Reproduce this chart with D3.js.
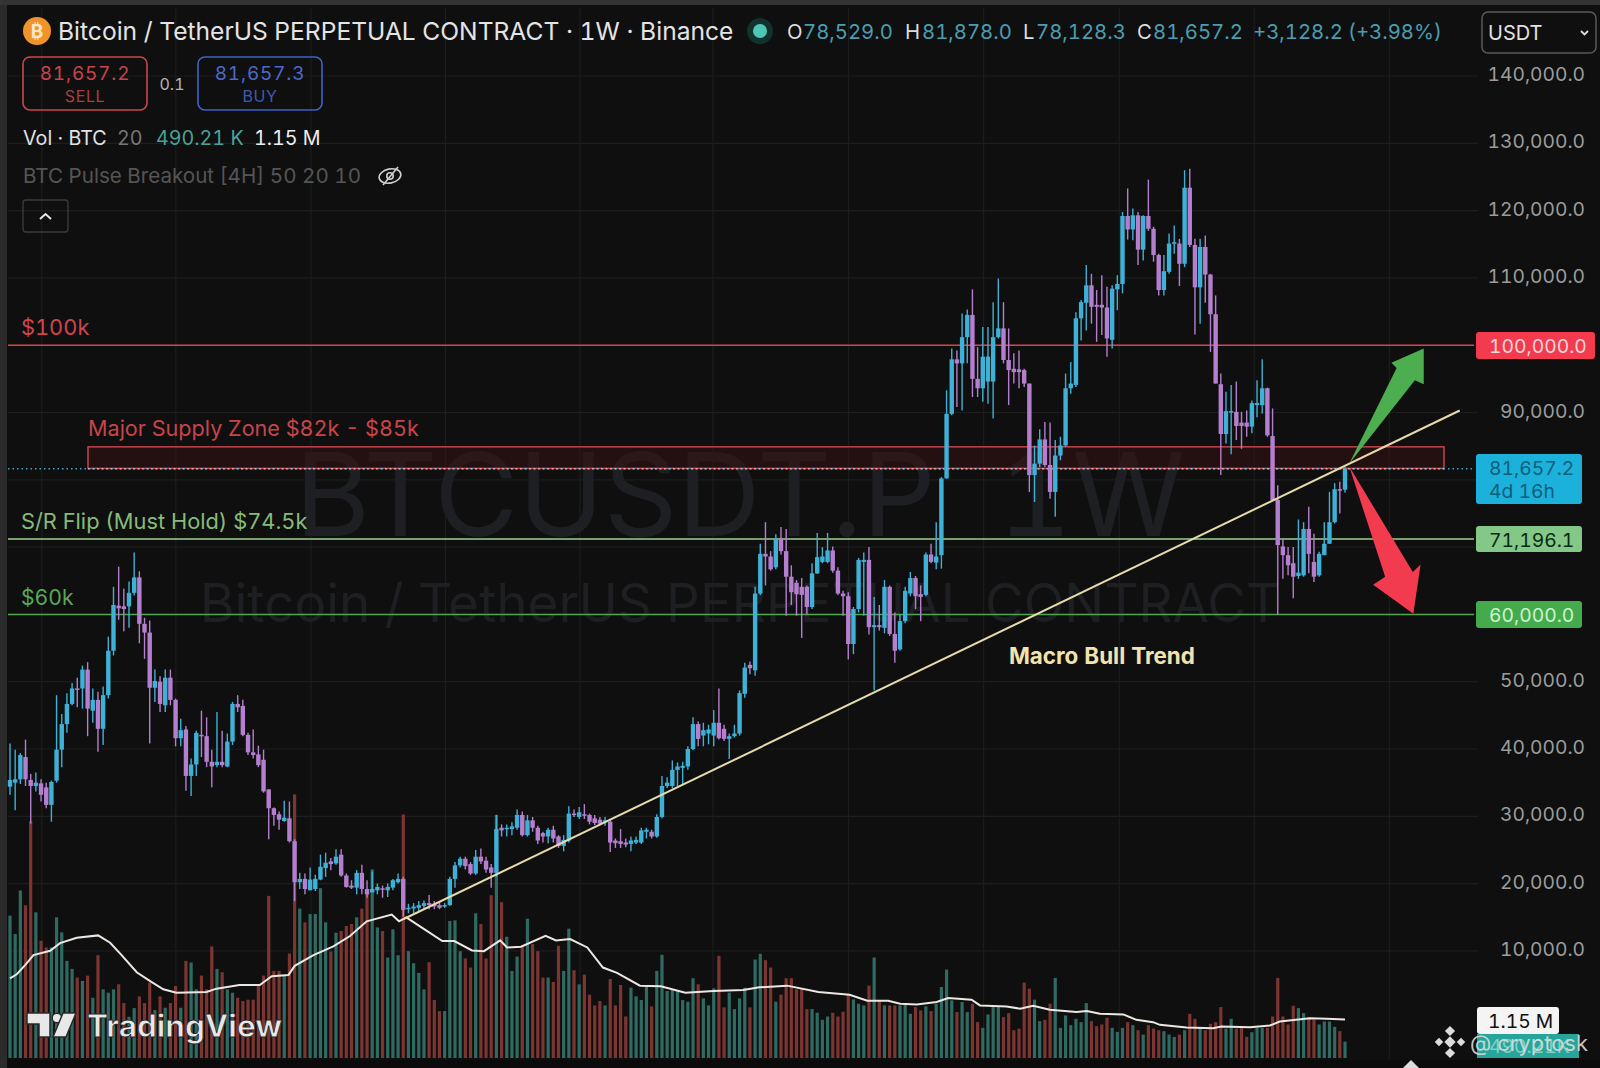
<!DOCTYPE html>
<html>
<head>
<meta charset="utf-8">
<title>BTCUSDT.P 1W</title>
<script src="https://cdn.jsdelivr.net/npm/d3@7/dist/d3.min.js"></script>
<style>
  html, body { margin: 0; padding: 0; background: #0f0f0f; }
  svg { display: block; }
  text { font-family: Inter, Roboto, sans-serif; font-variant-numeric: tabular-nums; }
</style>
</head>
<body>
<div id="chart"></div>
<script>
// weekly candles, prices in thousands of USDT
var opens = [
  34.4,35.0,35.5,38.8,35.4,34.5,34.9,34.3,31.7,35.3,
  39.9,43.7,46.7,49.0,49.0,51.8,45.7,47.3,43.0,48.0,
  54.6,61.3,61.2,61.2,63.2,65.5,58.6,57.3,49.1,50.0,
  46.5,50.6,47.3,41.6,42.9,36.0,37.7,42.1,41.9,38.1,
  37.6,38.1,37.4,41.1,46.7,46.4,42.1,39.5,39.2,38.4,
  34.0,31.2,30.3,29.3,29.7,26.3,20.2,20.7,19.0,19.2,20.6,
  22.3,23.3,23.0,24.3,21.2,19.7,19.4,21.6,19.2,18.7,
  19.0,19.3,19.0,19.4,20.2,20.7,16.2,16.3,16.4,16.7,
  17.1,17.0,16.8,16.6,16.8,20.7,22.7,23.7,22.9,21.5,
  24.0,23.4,22.4,21.6,28.3,28.1,28.1,28.3,30.2,27.2,
  29.4,28.3,27.5,27.0,28.0,27.0,25.6,26.4,30.4,29.9,
  30.3,30.2,29.7,29.5,29.1,29.2,26.4,26.3,26.1,25.9,
  26.1,26.1,27.7,27.7,27.0,29.9,34.5,34.5,36.9,37.2,
  37.4,40.0,43.7,42.0,42.3,42.0,43.9,43.0,41.5,41.9,
  42.3,48.2,52.5,51.7,63.1,69.0,68.6,67.0,71.3,69.4,
  65.6,64.7,64.1,64.1,61.1,66.1,67.8,67.8,69.5,66.5,
  63.1,62.7,55.6,60.8,67.8,68.1,58.1,58.4,58.0,64.1,
  57.1,54.8,59.0,63.1,65.4,63.0,62.9,68.9,67.7,68.8,
  80.2,89.8,97.9,97.3,101.2,104.5,95.0,93.6,94.6,94.6,
  101.2,102.5,97.8,96.5,96.4,96.3,94.3,80.7,82.4,86.0,
  82.2,78.2,83.6,85.1,93.6,94.1,104.0,106.3,108.9,106.0,
  106.0,105.6,100.8,108.3,109.1,119.2,117.2,119.3,114.2,119.2,
  117.3,113.4,108.2,110.9,115.1,115.1,112.1,123.4,114.9,108.6,
  114.6,110.5,104.6,94.2,86.8,90.1,90.1,88.5,88.5,87.9,
  91.1,91.1,93.6,86.5,77.0,70.1,68.8,67.6,65.7,65.8,72.7,
  67.8,65.8,68.8,70.5,73.7,78.6,78.529
];
var closes = [
  35.4,35.5,39.1,35.5,34.5,35.0,33.2,31.7,35.1,39.9,
  43.7,46.7,49.0,48.8,51.8,46.0,47.3,43.0,48.0,54.6,
  61.4,60.9,60.8,63.2,65.5,58.6,57.3,49.1,50.1,46.7,
  50.6,47.3,41.6,42.8,36.0,37.7,42.4,41.9,38.1,37.4,
  38.1,37.6,41.1,46.7,46.2,42.1,39.5,39.1,37.6,33.7,
  31.2,30.2,29.5,29.8,26.3,20.2,20.7,19.2,20.6,20.7,22.5,
  23.1,22.9,24.0,21.2,19.5,19.4,21.6,19.2,18.4,19.2,
  19.5,19.1,19.5,20.5,20.7,16.1,16.4,16.6,16.8,17.1,
  16.8,16.6,16.4,16.8,20.7,22.7,23.7,22.6,21.5,24.0,
  23.3,22.1,21.6,28.1,27.9,28.3,28.5,30.2,27.2,29.4,
  28.3,26.4,27.0,28.0,26.7,25.6,26.5,30.4,30.3,30.6,
  30.2,29.2,29.0,28.9,29.4,26.1,26.0,25.9,25.8,26.4,
  26.5,27.9,28.0,27.0,29.9,34.5,35.0,36.9,37.4,37.5,
  40.0,43.7,41.5,42.8,42.9,43.9,41.6,41.5,41.9,42.3,
  48.3,52.1,52.0,63.1,69.0,68.6,66.7,71.3,69.4,65.6,
  63.3,63.0,62.9,61.1,66.1,68.5,68.6,69.5,66.5,63.1,
  62.7,55.6,60.8,68.1,68.1,58.1,58.4,58.1,64.1,57.1,
  54.6,59.0,63.5,65.4,62.7,62.6,68.9,67.8,68.6,80.2,
  89.8,97.9,97.3,101.2,104.5,95.0,93.6,98.3,98.3,101.2,
  102.5,97.8,96.3,96.0,96.0,94.3,80.7,82.4,86.0,82.2,
  78.2,83.6,85.1,93.6,94.3,104.0,106.4,108.9,105.7,105.7,
  105.6,101.0,108.4,109.1,119.2,117.2,119.3,114.2,119.2,117.3,
  113.4,108.2,111.0,115.1,115.3,112.1,123.4,114.9,108.6,114.6,
  110.5,104.6,94.3,86.8,90.2,90.2,88.0,88.0,87.9,91.4,
  91.4,93.6,86.6,77.0,70.3,68.8,67.3,65.6,66.2,72.7,69.0,
  65.6,69.0,70.5,73.7,78.6,78.5,81.657
];
var highs = [
  40.8,39.9,39.4,41.4,36.3,36.5,35.5,35.0,35.3,48.0,
  45.2,48.3,49.8,50.6,52.4,52.9,49.0,48.5,49.3,56.7,
  64.1,67.1,63.8,64.9,69.2,66.4,59.5,59.1,51.8,50.8,
  51.8,51.8,47.5,44.5,43.4,38.6,42.7,45.7,44.7,39.9,
  45.5,42.7,42.3,47.0,48.0,47.3,42.4,42.9,40.5,39.9,
  34.0,31.3,30.7,32.3,32.2,26.6,21.6,21.5,22.4,21.3,24.3,
  24.6,23.8,25.1,25.1,21.5,20.5,22.0,22.8,20.5,21.8,
  20.0,19.7,20.0,20.7,21.5,21.0,17.0,17.1,17.4,17.5,
  18.3,17.4,17.3,17.1,21.0,23.2,24.0,24.0,23.2,25.0,
  25.2,24.0,22.9,30.2,28.8,28.8,29.1,31.0,30.7,30.2,
  29.9,28.6,27.7,28.3,28.6,27.2,27.2,31.5,31.0,31.4,
  31.8,30.4,30.2,29.9,29.9,29.4,26.7,28.1,26.7,27.0,
  27.0,28.3,28.3,28.0,30.3,36.0,35.8,38.3,38.0,38.1,
  40.4,44.7,44.1,43.9,43.6,45.8,49.0,43.6,42.3,43.6,
  48.7,52.8,53.0,64.1,70.5,73.7,69.4,71.9,73.0,72.7,
  67.3,65.1,65.4,64.3,67.6,72.1,70.0,72.1,70.1,67.0,
  63.5,63.3,61.1,68.4,69.2,70.0,62.6,61.4,65.1,64.3,
  60.3,60.0,64.1,66.3,65.7,64.3,69.2,70.5,73.7,80.4,
  93.3,99.5,99.2,104.7,105.3,108.3,99.7,102.7,102.7,106.4,
  109.9,106.4,102.5,98.8,99.2,96.5,94.3,85.1,87.5,88.6,
  88.5,85.9,86.4,95.8,97.5,104.9,106.7,111.9,110.6,108.2,
  110.4,108.7,108.9,110.4,119.8,123.3,120.3,119.8,119.3,124.6,
  117.6,113.6,113.4,116.6,117.8,115.8,126.0,126.2,115.8,115.8,
  116.3,110.6,107.4,95.8,93.1,94.1,94.6,90.1,90.3,91.8,
  94.8,97.9,93.7,90.6,79.2,71.3,70.0,70.0,74.1,73.7,76.0,
  72.0,69.3,73.7,78.2,79.5,79.7,81.878
];
var lows = [
  33.2,30.9,34.8,34.5,28.9,33.7,32.2,31.2,29.2,35.0,
  37.3,42.4,46.5,46.2,46.0,41.9,43.9,39.6,40.6,47.5,
  53.9,59.2,57.5,58.0,62.8,55.7,53.4,40.8,47.0,45.5,
  45.5,46.5,40.4,40.4,33.8,33.0,36.0,38.8,37.3,34.3,
  37.3,37.3,37.3,40.6,45.5,41.9,39.1,38.6,37.3,33.5,
  26.6,28.6,28.0,29.2,26.1,17.4,19.2,18.4,19.0,18.9,20.5,
  21.0,22.0,22.8,21.0,19.4,19.2,18.4,18.4,17.9,18.7,
  18.4,17.9,18.0,19.0,20.0,15.1,15.6,15.6,15.9,16.2,
  16.2,16.2,16.2,16.4,16.7,19.4,22.4,22.1,21.3,21.3,
  22.9,21.6,19.4,21.0,27.0,27.0,27.2,28.0,27.0,27.0,
  27.7,25.9,26.1,26.0,26.1,25.3,24.8,26.1,29.9,29.6,
  29.6,28.8,28.7,28.7,28.6,24.7,25.3,25.3,25.4,24.8,
  25.9,25.9,26.7,26.7,26.8,29.7,34.2,34.2,34.5,34.7,
  36.9,39.8,40.4,40.4,40.7,40.4,41.4,41.2,38.5,41.7,
  42.0,47.6,51.1,50.9,62.9,64.3,66.5,66.7,68.9,59.8,
  61.4,59.8,56.5,60.0,60.8,66.0,67.6,67.6,66.2,62.9,
  59.8,53.3,54.1,60.3,59.8,57.0,48.7,57.6,57.2,56.8,
  52.8,54.6,58.7,62.7,60.8,59.0,62.7,67.6,66.7,66.8,
  80.2,89.6,90.8,90.3,97.3,92.3,92.3,91.6,91.3,89.1,
  101.0,97.3,91.1,94.3,93.6,93.8,78.2,76.7,81.9,81.9,
  77.2,74.5,82.9,84.9,92.8,93.8,100.7,102.2,103.2,100.5,
  101.5,98.3,99.5,105.2,107.7,115.7,115.6,111.9,112.6,117.0,
  112.4,107.4,107.4,110.6,113.6,108.8,111.6,114.6,101.6,103.2,
  106.3,99.0,94.3,80.7,85.4,83.8,85.9,84.6,86.4,86.9,
  89.3,89.8,86.4,77.0,60.0,65.3,65.8,62.4,65.3,65.6,66.1,
  64.8,65.6,68.8,70.5,73.5,75.0,78.128
];
// weekly volume in millions of BTC
var volumes = [
  4.25,3.7,5.0,4.56,7.07,4.35,3.5,3.3,3.3,4.2,
  3.75,2.9,2.66,2.4,2.3,2.46,1.8,3.07,2.05,1.95,
  2.05,2.2,1.64,1.23,1.49,1.84,1.64,2.25,1.43,1.84,
  1.5,1.64,2.15,1.5,2.9,2.85,2.05,2.46,2.05,3.33,
  2.66,2.56,2.05,1.95,1.8,1.7,1.74,1.74,2.15,2.46,
  4.84,2.6,2.6,2.46,3.12,7.87,4.46,4.05,4.3,4.3,
  5.07,4.05,3.18,3.74,3.79,3.94,4.0,4.2,4.46,4.9,
  5.63,3.9,3.79,3.0,3.84,3.07,7.27,3.19,2.83,2.54,2.05,
  2.86,1.73,1.4,1.4,4.09,4.11,3.19,2.97,2.7,4.32,
  4.0,2.97,4.86,7.26,4.65,3.62,2.6,3.03,3.35,4.16,
  3.4,3.19,2.4,2.4,2.27,3.35,2.6,3.86,2.62,2.2,
  2.49,1.89,1.57,1.7,1.57,2.36,1.57,2.18,1.24,2.1,
  1.84,1.73,2.16,1.54,2.6,3.08,2.0,2.05,2.0,1.73,
  1.68,2.38,2.2,1.78,1.57,2.08,3.05,1.51,1.95,1.46,
  1.78,2.1,1.51,2.94,3.11,2.92,2.7,1.68,1.89,2.38,
  2.38,2.05,2.05,1.46,1.46,1.35,1.14,1.24,1.35,1.24,
  1.38,1.89,1.75,1.62,1.57,2.16,3.0,1.73,1.57,1.57,
  1.57,1.57,1.6,1.32,1.52,1.42,1.54,1.4,1.62,2.12,
  2.64,1.72,1.37,1.67,1.37,1.62,1.07,0.9,1.3,1.52,
  1.52,1.22,1.34,0.83,0.88,2.25,2.07,1.74,1.1,1.14,
  1.62,2.39,0.9,1.27,0.98,1.17,1.07,1.64,1.1,0.95,
  1.0,1.2,0.9,0.78,0.9,1.07,0.98,0.83,0.7,0.98,
  0.88,0.83,0.8,0.7,0.63,0.7,0.83,1.32,1.17,0.88,
  0.83,1.02,1.07,1.52,0.88,1.17,0.88,0.93,0.63,0.77,0.9,
  0.9,0.9,1.24,2.39,1.24,1.0,1.56,1.49,1.34,1.22,
  1.14,1.0,1.09,1.09,0.93,0.8,0.49
];
// volume moving average, sampled along the white line [position, millions]
var volMA = [
  [0,2.38],[1.3,2.5],[2.9,2.77],[4.5,3.07],[7.7,3.2],[9.6,3.43],[12.8,3.59],[16.9,3.66],
  [19.2,3.44],[21.4,3.07],[24.3,2.56],[26.8,2.3],[29.4,2.05],[31.9,1.95],[37.7,1.97],
  [39.6,2.07],[44,2.18],[47.9,2.18],[50.2,2.44],[53.4,2.48],[54.6,2.75],[58.2,3.07],
  [62,3.33],[65.2,3.64],[68.4,4.08],[73.2,4.28],[74.6,4.08],[76,4.2],[79.2,3.87],
  [82.9,3.49],[85.2,3.49],[88.6,3.21],[90.9,3.19],[94,3.51],[95.3,3.3],[98,3.32],
  [102.7,3.65],[104.7,3.51],[107.4,3.55],[110.7,3.3],[113.7,2.7],[116.4,2.54],[120.8,2.16],
  [124.8,2.14],[129.5,1.95],[134.9,2.0],[140.6,2.03],[143.7,2.11],[149,2.16],[155,1.97],
  [161,1.89],[164.4,1.71],[168.4,1.71],[170.7,1.62],[173.9,1.6],[177.7,1.67],[179.9,1.79],
  [184.4,1.74],[186,1.57],[191.1,1.54],[193.7,1.47],[196.2,1.56],[199.4,1.44],[204.5,1.37],
  [206.5,1.4],[209,1.32],[213.5,1.3],[216,1.14],[219.2,1.07],[220.5,0.99],[225.6,0.91],
  [230.7,0.89],[232.3,0.94],[237.8,0.92],[241.6,0.97],[243.5,1.09],[249.3,1.19],[252.5,1.17],[256,1.15]
];

var axisTicks = [140, 130, 120, 110, 90, 50, 40, 30, 20, 10];
var gridPrices = d3.range(10, 150, 10);
var gridBars = [6.1, 31.8, 57.7, 83.5, 109.3, 134.8, 160.8, 186.7, 212.7, 238.6, 264.5];

// levels and drawings on the chart, [position, price]
var lastPrice = 81.657;
var levels = [
  { price: 100, color: '#d9434c' },
  { price: 71.196, color: '#9ccf8f' },
  { price: 60, color: '#4ea64f' }
];
var supplyZone = [84.9, 81.7];
var trendLine = [[75.4, 14.7], [278, 90.3]];
var upArrow = [[256.8, 82.4], [265.9, 96.6], [264.9, 97.4], [271.1, 99.5], [271.1, 94.2], [269.4, 94.8]];
var downArrow = [[256.8, 82.0], [269.0, 66.3], [270.5, 67.4], [269.1, 60.1], [261.4, 64.4], [263.7, 65.6]];

var width = 1600, height = 1068;
var plotRight = 1478;

var x = d3.scaleLinear().domain([0, closes.length - 1]).range([10, 1345]);
// overlays and grid were read against this coarser position scale
var xo = d3.scaleLinear().domain([0, 256]).range([10, 1345]);
var y = d3.scaleLinear().domain([0, 140]).range([1018.2, 76]);
var v = d3.scaleLinear().domain([0, 8]).range([1058, 790]);

var svg = d3.select('#chart').append('svg')
  .attr('width', width)
  .attr('height', height);

svg.append('rect').attr('width', width).attr('height', height).attr('fill', '#0f0f0f');
svg.append('rect').attr('width', 7).attr('height', height).attr('fill', '#2b2b2b');
svg.append('rect').attr('width', width).attr('height', 5).attr('fill', '#333333');
svg.append('rect').attr('x', 7).attr('y', 1060).attr('width', 1593).attr('height', 8).attr('fill', '#0b0b0b');

// grid
svg.append('g').selectAll('line').data(gridPrices).enter().append('line')
  .attr('x1', 8).attr('x2', plotRight)
  .attr('y1', d => y(d)).attr('y2', d => y(d))
  .style('stroke', '#1d1d1d').style('stroke-width', 1.2);
svg.append('g').selectAll('line').data(gridBars).enter().append('line')
  .attr('x1', d => xo(d)).attr('x2', d => xo(d))
  .attr('y1', 8).attr('y2', 1060)
  .style('stroke', '#1d1d1d').style('stroke-width', 1.2);

// watermark
svg.append('text').attr('x', 740).attr('y', 536)
  .attr('text-anchor', 'middle').style('font-size', '115px').style('white-space', 'pre')
  .style('fill', '#1e1f23').text('BTCUSDT.P  1W');
svg.append('text').attr('x', 740).attr('y', 622)
  .attr('text-anchor', 'middle').style('font-size', '53px')
  .style('fill', '#1e1f23').text('Bitcoin / TetherUS PERPETUAL CONTRACT');

// volume
svg.append('g').selectAll('rect').data(volumes).enter().append('rect')
  .attr('x', (d, i) => x(i) - 1.6)
  .attr('y', d => v(d))
  .attr('width', 3.2)
  .attr('height', d => v(0) - v(d))
  .attr('fill', (d, i) => closes[i] >= opens[i] ? '#2f6b62' : '#7c3531');

svg.append('path').datum(volMA)
  .attr('d', d3.line().x(d => xo(d[0])).y(d => v(d[1])))
  .style('fill', 'none').style('stroke', '#ece7e2').style('stroke-width', 2);

// horizontal levels
svg.append('g').selectAll('line').data(levels).enter().append('line')
  .attr('x1', 8).attr('x2', 1474)
  .attr('y1', d => y(d.price)).attr('y2', d => y(d.price))
  .style('stroke', d => d.color).style('stroke-width', 1.5);

// supply zone
svg.append('rect')
  .attr('x', 88).attr('y', y(supplyZone[0]))
  .attr('width', 1444 - 88).attr('height', y(supplyZone[1]) - y(supplyZone[0]))
  .style('fill', '#3a1214').style('fill-opacity', 0.5)
  .style('stroke', '#c2444b').style('stroke-width', 1.5);

// last price line
svg.append('line')
  .attr('x1', 8).attr('x2', 1474)
  .attr('y1', y(lastPrice)).attr('y2', y(lastPrice))
  .style('stroke', '#4aa6c4').style('stroke-width', 1.5).style('stroke-dasharray', '1.5,3');
svg.append('line')
  .attr('x1', 88).attr('x2', 1444)
  .attr('y1', y(lastPrice)).attr('y2', y(lastPrice))
  .style('stroke', '#eaa79f').style('stroke-width', 1.5).style('stroke-dasharray', '1.5,3');

// candles
var candles = svg.append('g').selectAll('g').data(closes).enter().append('g')
  .style('color', (d, i) => d >= opens[i] ? '#3fb1d6' : '#b57fd0');
candles.append('line')
  .attr('x1', (d, i) => x(i)).attr('x2', (d, i) => x(i))
  .attr('y1', (d, i) => y(highs[i])).attr('y2', (d, i) => y(lows[i]))
  .style('stroke', 'currentColor').style('stroke-width', 1.4);
candles.append('rect')
  .attr('x', (d, i) => x(i) - 2.2)
  .attr('y', (d, i) => y(Math.max(opens[i], d)))
  .attr('width', 4.4)
  .attr('height', (d, i) => Math.max(1.5, Math.abs(y(opens[i]) - y(d))))
  .style('fill', 'currentColor');

// trend line and arrows
var line = d3.line().x(d => xo(d[0])).y(d => y(d[1]));
svg.append('path').datum(trendLine).attr('d', line)
  .style('fill', 'none').style('stroke', '#e6dbab').style('stroke-width', 2);
svg.append('path').datum(upArrow).attr('d', d => line(d) + 'Z').style('fill', '#4cae4f');
svg.append('path').datum(downArrow).attr('d', d => line(d) + 'Z').style('fill', '#f23b4e');

// price axis
var axis = svg.append('g')
  .attr('transform', 'translate(' + plotRight + ',-1.5)')
  .call(d3.axisRight(y).tickValues(axisTicks).tickSize(0)
    .tickFormat(d => d3.format(',.1f')(d * 1000)));
axis.select('.domain').remove();
axis.selectAll('text')
  .attr('x', 107).attr('text-anchor', 'end')
  .style('font-family', 'Inter, Roboto, sans-serif')
  .style('font-size', '19.2px').style('fill', '#9c9c9c');

// chart labels
function label(txt, lx, ly, size, color, weight) {
  return svg.append('text').attr('x', lx).attr('y', ly)
    .style('font-size', size + 'px').style('fill', color)
    .style('font-weight', weight || 400).text(txt);
}
label('$100k', 21, 335, 21.8, '#d2434b');
label('Major Supply Zone $82k - $85k', 88, 436, 21.6, '#c8444b');
label('S/R Flip (Must Hold) $74.5k', 21, 529, 21.8, '#86bb78');
label('$60k', 21, 605, 21.2, '#58a858');
label('Macro Bull Trend', 1009, 664, 22.4, '#f2e4ad', 700);

// price tags on the axis
var tags = [
  { top: 332, h: 27, w: 119, fill: '#f23b4e', color: '#f9d5d8', lines: ['100,000.0'] },
  { top: 454, h: 50, w: 106, fill: '#1cb1da', color: '#0e5f7a', lines: ['81,657.2', '4d 16h'] },
  { top: 526, h: 26, w: 106, fill: '#84c888', color: '#0b2a12', lines: ['71,196.1'] },
  { top: 601, h: 27, w: 106, fill: '#44ab4d', color: '#cdf2cd', lines: ['60,000.0'] }
];
tags.forEach(function(t) {
  svg.append('rect').attr('x', 1476).attr('y', t.top).attr('width', t.w).attr('height', t.h)
    .attr('rx', 3).attr('fill', t.fill);
  t.lines.forEach(function(s, i) {
    label(s, 1489, t.top + 21 + i * 23, 19.3, t.color);
  });
});

// volume tags
svg.append('rect').attr('x', 1477).attr('y', 1034).attr('width', 102).attr('height', 24).attr('fill', '#26a69a');
label('490.21K', 1489, 1053, 19.3, '#7ed0c8');
svg.append('rect').attr('x', 1477).attr('y', 1007).attr('width', 82).attr('height', 27).attr('rx', 3).attr('fill', '#f4f4f4');
label('1.15 M', 1488, 1028, 19.3, '#111111');

// header
svg.append('circle').attr('cx', 37).attr('cy', 31).attr('r', 14).attr('fill', '#f0932b');
svg.append('text').attr('x', 37).attr('y', 38).attr('text-anchor', 'middle')
  .style('font-size', '19px').style('font-weight', 700).style('fill', '#fbe6c8').text('₿');
label('Bitcoin / TetherUS PERPETUAL CONTRACT · 1W · Binance', 58, 40, 24.6, '#e4e4e4');
svg.append('circle').attr('cx', 760).attr('cy', 31).attr('r', 13).attr('fill', '#12322d');
svg.append('circle').attr('cx', 760).attr('cy', 31).attr('r', 7).attr('fill', '#4cc7b4');

[['O', 787, '#dedede'], ['78,529.0', 803, '#4b9db2'], ['H', 905, '#dedede'], ['81,878.0', 922, '#4b9db2'],
 ['L', 1023, '#dedede'], ['78,128.3', 1036, '#4b9db2'], ['C', 1137, '#dedede'], ['81,657.2', 1153, '#4b9db2'],
 ['+3,128.2', 1253, '#4b9db2'], ['(+3.98%)', 1348, '#4b9db2']
].forEach(function(d) { label(d[0], d[1], 39, 20.3, d[2]); });

// USDT selector
svg.append('rect').attr('x', 1482).attr('y', 12).attr('width', 114).attr('height', 41).attr('rx', 6)
  .style('fill', 'none').style('stroke', '#5a5a5a').style('stroke-width', 1.5);
label('USDT', 1488, 40, 20, '#e2e2e2');
svg.append('path').attr('d', 'M1581,31l3.5,3.5l3.5,-3.5').style('fill', 'none').style('stroke', '#dddddd').style('stroke-width', 1.8);

// sell / buy boxes
[{ x0: 23, stroke: '#c9474e', color: '#c8434b', sub: '#a34046', price: '81,657.2', name: 'SELL' },
 { x0: 198, stroke: '#3f62c8', color: '#4c69c9', sub: '#3f5bb0', price: '81,657.3', name: 'BUY' }
].forEach(function(b) {
  svg.append('rect').attr('x', b.x0).attr('y', 57).attr('width', 124).attr('height', 53).attr('rx', 7)
    .style('fill', 'none').style('stroke', b.stroke).style('stroke-width', 1.6);
  svg.append('text').attr('x', b.x0 + 62).attr('y', 80).attr('text-anchor', 'middle')
    .style('font-size', '19px').style('letter-spacing', '0.8px').style('fill', b.color).text(b.price);
  svg.append('text').attr('x', b.x0 + 62).attr('y', 102).attr('text-anchor', 'middle')
    .style('font-size', '16px').style('letter-spacing', '0.6px').style('fill', b.sub).text(b.name);
});
svg.append('text').attr('x', 172).attr('y', 90).attr('text-anchor', 'middle')
  .style('font-size', '16px').style('fill', '#b5b5b5').text('0.1');

// legend rows
label('Vol · BTC', 23, 145, 19.7, '#e2e2e2');
label('20', 117, 145, 19.7, '#777777');
label('490.21 K', 156, 145, 19.7, '#4ba398');
label('1.15 M', 254, 145, 19.7, '#eeeeee');
label('BTC Pulse Breakout [4H] 50 20 10', 23, 183, 20.6, '#555555');

// hidden indicator icon
var eye = svg.append('g').attr('transform', 'translate(390,176)')
  .style('fill', 'none').style('stroke', '#cfcfcf').style('stroke-width', 1.6);
eye.append('ellipse').attr('rx', 11).attr('ry', 7).attr('transform', 'rotate(-12)');
eye.append('circle').attr('r', 3.2);
eye.append('line').attr('x1', -7).attr('y1', 9).attr('x2', 8).attr('y2', -9);

// collapse button
svg.append('rect').attr('x', 23).attr('y', 200).attr('width', 45).attr('height', 32).attr('rx', 3)
  .style('fill', 'none').style('stroke', '#3c3c3c').style('stroke-width', 1.3);
svg.append('path').attr('d', 'M40,219l5.5,-5l5.5,5').style('fill', 'none').style('stroke', '#e6e6e6').style('stroke-width', 2);

// TradingView mark
var logo = svg.append('g').style('fill', '#e8e8e8').style('stroke', '#2a2a2a').style('stroke-width', 1.5);
logo.append('path').attr('d', 'M27,1013H50V1037H39V1024H27Z');
logo.append('circle').attr('cx', 57).attr('cy', 1018).attr('r', 4.8);
logo.append('path').attr('d', 'M63,1013H76L66,1037H53Z');
svg.append('text').attr('x', 87).attr('y', 1037)
  .style('font-size', '31.5px').style('font-weight', 700)
  .style('fill', '#e8e8e8').style('stroke', '#2a2a2a').style('stroke-width', 0.8)
  .text('TradingView');

// author stamp over the corner
var diamond = svg.append('g').attr('transform', 'translate(1450,1042)').style('fill', '#dcdcdc');
[[0, 0, 4], [-11, 0, 3], [11, 0, 3], [0, -11, 3.6], [0, 11, 3.6]].forEach(function(s) {
  diamond.append('rect').attr('x', s[0] - s[2]).attr('y', s[1] - s[2])
    .attr('width', s[2] * 2).attr('height', s[2] * 2)
    .attr('transform', 'rotate(45 ' + s[0] + ' ' + s[1] + ')');
});
svg.append('text').attr('x', 1470).attr('y', 1051)
  .style('font-size', '22px').style('fill', '#dddddd').style('fill-opacity', 0.88)
  .text('@ cryptosk');
svg.append('path').attr('d', 'M1403,1068L1411,1060L1419,1068Z').style('fill', '#dcdcdc');
</script>
</body>
</html>
